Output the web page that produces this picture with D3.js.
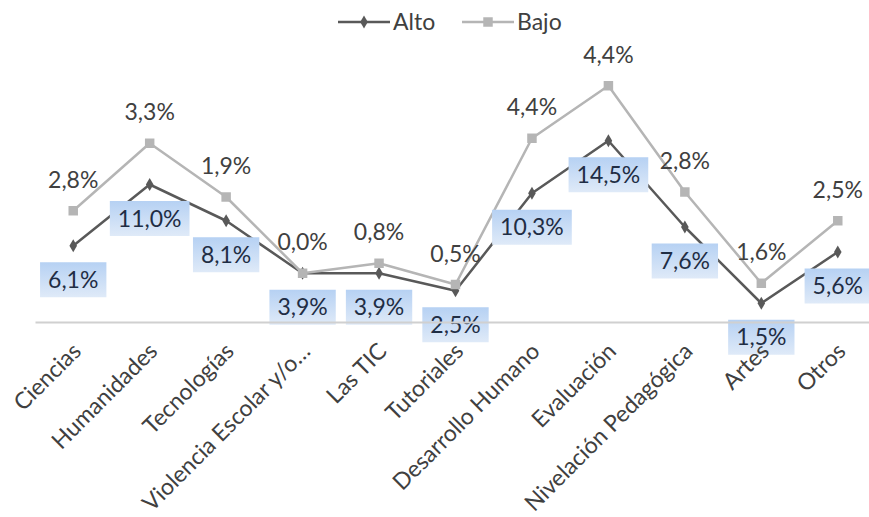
<!DOCTYPE html>
<html>
<head>
<meta charset="utf-8">
<script src="https://cdn.jsdelivr.net/npm/d3@7"></script>
<style>
    html, body { margin: 0; padding: 0; background: #ffffff; }
    svg { display: block; font-family: Lato, 'Open Sans', sans-serif; }
</style>
</head>
<body>
<svg id="chart" width="869" height="517"></svg>
<script>
const categories = [
    'Ciencias',
    'Humanidades',
    'Tecnologías',
    'Violencia Escolar y/o…',
    'Las TIC',
    'Tutoriales',
    'Desarrollo Humano',
    'Evaluación',
    'Nivelación Pedagógica',
    'Artes',
    'Otros'
];
const alto = [6.1, 11.0, 8.1, 3.9, 3.9, 2.5, 10.3, 14.5, 7.6, 1.5, 5.6];
const bajo = [2.8, 3.3, 1.9, 0.0, 0.8, 0.5, 4.4, 4.4, 2.8, 1.6, 2.5];
const seriesNames = ['Alto', 'Bajo'];

const altoColor = '#595959';
const bajoColor = '#b5b5b5';
const textColor = '#404040';

const svg = d3.select('#chart');

// rows for d3.stack: Excel "stacked line" chart
const rows = categories.map(function(c, i) {
    return { cat: c, Alto: alto[i], Bajo: bajo[i] };
});
const stacked = d3.stack().keys(seriesNames)(rows);

const x = d3.scalePoint()
    .domain(categories)
    .range([35, 876])
    .padding(0.5);
const y = d3.scaleLinear()
    .domain([0, 20])
    .range([322, 72]);

const fmt = function(v) { return v.toFixed(1).replace('.', ',') + '%'; };

// gradient for the Alto labels
const defs = svg.append('defs');
const grad = defs.append('linearGradient')
    .attr('id', 'labelFill')
    .attr('x1', 0).attr('y1', 0).attr('x2', 0).attr('y2', 1);
grad.append('stop').attr('offset', '0%').attr('stop-color', '#b6d1f3');
grad.append('stop').attr('offset', '100%').attr('stop-color', '#dfeaf8');

const line = d3.line()
    .x(function(d) { return x(d.data.cat); })
    .y(function(d) { return y(d[1]); });

const colors = { Alto: altoColor, Bajo: bajoColor };

// category axis (line first, labels moved on top later)
const xAxis = svg.append('g')
    .attr('transform', 'translate(0,' + y(0) + ')')
    .call(d3.axisBottom(x).tickSize(0));
xAxis.select('.domain')
    .attr('stroke', '#d0d0d0')
    .attr('stroke-width', 2);

const seriesG = svg.selectAll('g.series')
    .data(stacked)
    .enter().append('g')
    .attr('class', 'series');

seriesG.append('path')
    .attr('fill', 'none')
    .attr('stroke', function(d) { return colors[d.key]; })
    .attr('stroke-width', 2.5)
    .attr('stroke-linejoin', 'round')
    .attr('d', line);

const diamond = d3.symbol().type(d3.symbolDiamond).size(50);
const square = d3.symbol().type(d3.symbolSquare).size(90);

seriesG.each(function(s) {
    d3.select(this).selectAll('path.marker')
        .data(s)
        .enter().append('path')
        .attr('class', 'marker')
        .attr('transform', function(d) {
            return 'translate(' + x(d.data.cat) + ',' + y(d[1]) + ')';
        })
        .attr('d', s.key === 'Alto' ? diamond : square)
        .attr('fill', colors[s.key]);
});

// Bajo labels above points
svg.append('g')
    .selectAll('text')
    .data(stacked[1])
    .enter().append('text')
    .attr('x', function(d) { return x(d.data.cat); })
    .attr('y', function(d) { return y(d[1]) - 31; })
    .attr('dy', '0.35em')
    .attr('text-anchor', 'middle')
    .attr('fill', textColor)
    .style('font-size', '23px')
    .text(function(d) { return fmt(d.data.Bajo); });

// Alto labels in blue boxes below points
const altoLab = svg.append('g')
    .selectAll('g')
    .data(stacked[0])
    .enter().append('g')
    .attr('transform', function(d) {
        return 'translate(' + x(d.data.cat) + ',' + (y(d[1]) + 34) + ')';
    });
altoLab.append('rect');
altoLab.append('text')
    .attr('dy', '0.35em')
    .attr('text-anchor', 'middle')
    .attr('fill', '#1f2d44')
    .style('font-size', '23px')
    .text(function(d) { return fmt(d.data.Alto); });
altoLab.each(function() {
    const g = d3.select(this);
    const bb = g.select('text').node().getBBox();
    g.select('rect')
        .attr('x', bb.x - 8)
        .attr('y', -17.5)
        .attr('width', bb.width + 16)
        .attr('height', 35)
        .attr('fill', 'url(#labelFill)');
});

// category labels drawn over the label boxes
xAxis.raise();
xAxis.selectAll('.tick text')
    .attr('y', 0)
    .attr('dy', '0.35em')
    .attr('text-anchor', 'end')
    .attr('transform', 'translate(3,25) rotate(-45)')
    .attr('fill', textColor)
    .style('font-family', 'Lato, sans-serif')
    .style('font-size', '23px');

// legend
const legendX = [338, 462];
const legend = svg.append('g')
    .selectAll('g')
    .data(seriesNames)
    .enter().append('g')
    .attr('transform', function(d, i) { return 'translate(' + legendX[i] + ',22)'; });
legend.append('line')
    .attr('x1', 0).attr('x2', 52)
    .attr('stroke', function(d) { return colors[d]; })
    .attr('stroke-width', 2.5);
legend.append('path')
    .attr('transform', 'translate(26,0)')
    .attr('d', function(d) { return d === 'Alto' ? diamond() : square(); })
    .attr('fill', function(d) { return colors[d]; });
legend.append('text')
    .attr('x', 55)
    .attr('dy', '0.35em')
    .attr('fill', textColor)
    .style('font-size', '23px')
    .text(function(d) { return d; });
</script>
</body>
</html>
